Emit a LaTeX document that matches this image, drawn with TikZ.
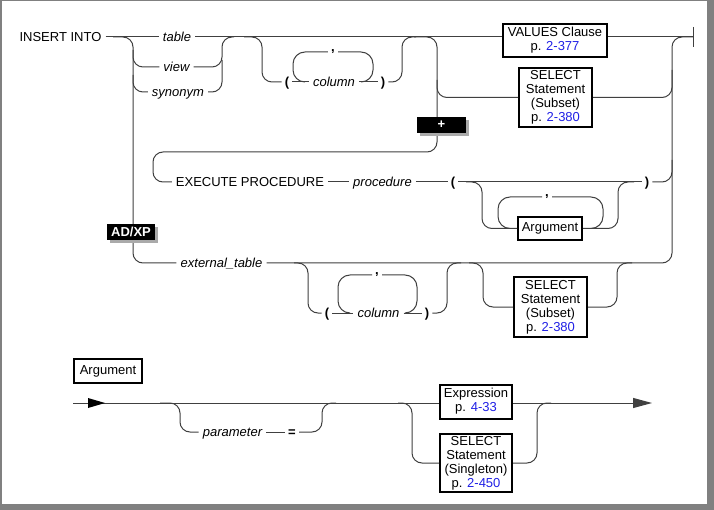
\documentclass[tikz,border=0pt]{standalone}
\usepackage{fontspec}
\setmainfont{Liberation Sans}
\usetikzlibrary{arrows.meta}
\definecolor{lnk}{RGB}{32,32,230}
\definecolor{frm}{RGB}{128,128,128}
\definecolor{shd}{RGB}{170,170,170}
\newcommand\kwfont{\fontsize{13}{14}\selectfont}
\tikzset{
  conn/.style={draw=black!75, line width=1pt, rounded corners=10pt},
  loopc/.style={conn, rounded corners=12pt},
  lbl/.style={inner xsep=4pt, inner ysep=0pt, text height=9.3pt, text depth=0pt, font=\kwfont},
  var/.style={lbl, font=\kwfont\itshape},
  sym/.style={lbl, font=\kwfont\bfseries, inner xsep=3pt},
  cma/.style={sym, text height=3pt, text depth=3pt},
  bx/.style={draw=black, line width=2pt, align=center, font=\kwfont, inner sep=0pt},
  tag/.style={fill=black, text=white, font=\kwfont\bfseries, inner sep=0pt},
}
\begin{document}
\begin{tikzpicture}[x=1pt,y=-1pt]
\fill[frm] (0,0) rectangle (714,510);
\fill[white] (1.5,1.5) rectangle (706.5,503.5);
\useasboundingbox (0,0) rectangle (714,510);

% ---------- nodes, upper diagram
\node[lbl] (ins) at (60.5,37) {INSERT INTO};
\node[var] (tbl) at (177,37) {table};
\node[var] (view) at (176.5,67) {view};
\node[var] (syn) at (178,92) {synonym};
\node[sym] (lp1) at (287,82) {(};
\node[var] (col1) at (334,82) {column};
\node[sym] (rp1) at (383,82) {)};
\node[cma] (cm1) at (333,52) {,};
\node[bx, minimum width=104pt, minimum height=33pt] (values) at (555,40.5) {VALUES Clause\\p. \textcolor{lnk}{2-377}};
\node[bx, minimum width=73pt, minimum height=59pt] (sel1) at (555.5,97.5) {SELECT\\Statement\\(Subset)\\p. \textcolor{lnk}{2-380}};
\node[lbl] (exe) at (250,182) {EXECUTE PROCEDURE};
\node[var] (proc) at (382.5,182) {procedure};
\node[sym] (lp2) at (453,182) {(};
\node[sym] (rp2) at (647,182) {)};
\node[cma] (cm2) at (547,197) {,};
\node[bx, minimum width=64pt, minimum height=23pt] (arg1) at (550,228.5) {Argument};
\node[var] (ext) at (221.5,263) {external\_table};
\node[sym] (lp3) at (327,313) {(};
\node[var] (col3) at (378.5,313) {column};
\node[sym] (rp3) at (427,313) {)};
\node[cma] (cm3) at (377,275) {,};
\node[bx, minimum width=73pt, minimum height=60pt] (sel3) at (550.5,307) {SELECT\\Statement\\(Subset)\\p. \textcolor{lnk}{2-380}};
\coordinate (endp) at (693,37);

% ---------- connectors, upper diagram
\draw[conn] (ins) -- (tbl);
\draw[conn] (tbl.east) -- (tbl.east -| values.west);
\draw[conn] (values.east |- endp) -- (endp);
\draw[line width=1pt, draw=black!75] (693,27) -- (693,47);

\draw[conn] (113,37) -| (133,263) -- (ext.west);
\draw[conn] (133,50) |- (view.west);
\draw[conn] (133,75) |- (syn.west);
\draw[conn] (view.east) -| (222,37) -- (234,37);
\draw[conn] (syn.east) -| (222,60);

\draw[conn] (244,37) -| (262,82) -- (lp1);
\draw[conn] (lp1) -- (col1);
\draw[conn] (col1) -- (rp1);
\draw[conn] (rp1.east) -| (402,37) -- (416,37);
\draw[loopc] (361,82) -| (373,52) -- (cm1.east);
\draw[loopc] (cm1.west) -| (293,82) -- (305,82);

\draw[conn] (414,37) -| (437,152) -| (153,182) -- (exe.west);
\draw[conn] (437,80) |- (sel1.west);
\draw[conn] (sel1.east) -| (672,70);

\draw[conn] (exe) -- (proc);
\draw[conn] (proc) -- (lp2);
\draw[conn] (lp2) -- (rp2);
\draw[conn] (rp2.east) -| (672,160);
\draw[conn] (466,182) -| (482,228.5) -- (arg1.west);
\draw[conn] (arg1.east) -| (618,182) -- (634,182);
\draw[loopc] (593,228.5) -| (603,197) -- (cm2.east);
\draw[loopc] (cm2.west) -| (498,228.5) -- (509,228.5);

\draw[conn] (ext.east) -| (672,37) -- (endp);
\draw[conn] (294,263) -| (308,313) -- (lp3);
\draw[conn] (lp3) -- (col3);
\draw[conn] (col3) -- (rp3);
\draw[conn] (rp3.east) -| (447,263) -- (461,263);
\draw[loopc] (406,313) -| (417,275) -- (cm3.east);
\draw[loopc] (cm3.west) -| (338,313) -- (349,313);
\draw[conn] (469,263) -| (483,307) -- (sel3.west);
\draw[conn] (sel3.east) -| (617,263) -- (632,263);

% ---------- tags
\fill[shd] (420,120) rectangle (469,136);
\node[tag, minimum width=49pt, minimum height=16pt] (plus) at (441.5,125) {+};
\fill[shd] (110,227) rectangle (158,243);
\node[tag, minimum width=48pt, minimum height=16pt] (adxp) at (131,232) {AD/XP};

% ---------- lower diagram
\node[bx, minimum width=68pt, minimum height=24pt] (argt) at (108,371) {Argument};
\node[var] (param) at (232.5,432) {parameter};
\node[sym] (eq) at (292,432) {=};
\node[bx, minimum width=72pt, minimum height=34pt] (expr) at (476,401.5) {Expression\\p. \textcolor{lnk}{4-33}};
\node[bx, minimum width=72pt, minimum height=58pt] (sel4) at (476,463) {SELECT\\Statement\\(Singleton)\\p. \textcolor{lnk}{2-450}};
\coordinate (astart) at (73,403);
\coordinate (aend) at (652,403);

\draw[conn] (astart) -- (astart -| expr.west);
\draw[conn, -{Triangle[length=19pt,width=10pt]}] (expr.east |- astart) -- (aend);
\fill[black] (88,398) -- (105,403) -- (88,408) -- cycle;
\draw[conn] (160,403) -| (180,432) -- (param.west);
\draw[conn] (param) -- (eq);
\draw[conn] (eq.east) -| (322,403) -- (336,403);
\draw[conn] (398,403) -| (412,463) -- (sel4.west);
\draw[conn] (sel4.east) -| (537,403) -- (551,403);
\end{tikzpicture}
\end{document}
